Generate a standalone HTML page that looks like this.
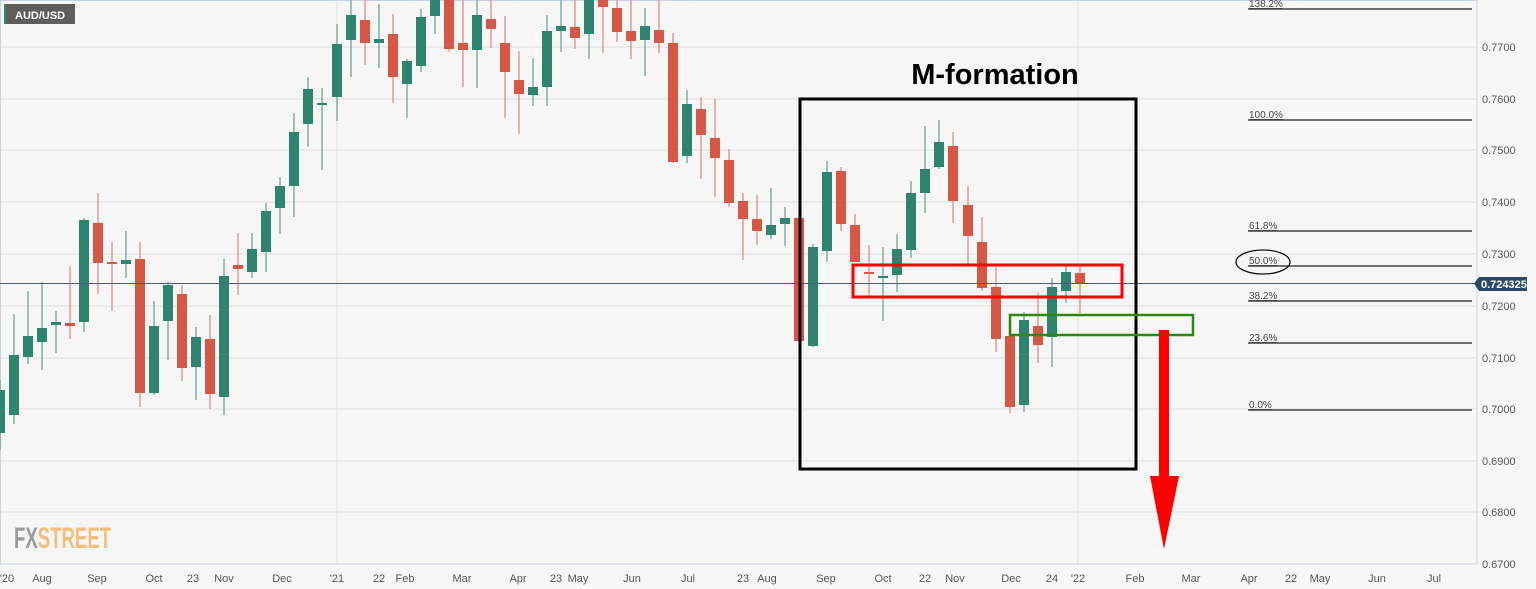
<!DOCTYPE html>
<html><head><meta charset="utf-8"><style>
html,body{margin:0;padding:0;background:#f7f7f7;}
svg{display:block;font-family:"Liberation Sans",sans-serif;}
</style></head><body>
<svg width="1536" height="589" viewBox="0 0 1536 589" xmlns="http://www.w3.org/2000/svg">
<rect x="0" y="0" width="1536" height="589" fill="#f7f7f7"/>
<rect x="0" y="0" width="1477" height="564" fill="#f6f6f6"/>
<g stroke="#e4e4e4" stroke-width="1.2">
<line x1="0" y1="47" x2="1477" y2="47"/><line x1="0" y1="99" x2="1477" y2="99"/>
<line x1="0" y1="150" x2="1477" y2="150"/><line x1="0" y1="202" x2="1477" y2="202"/>
<line x1="0" y1="254" x2="1477" y2="254"/><line x1="0" y1="306" x2="1477" y2="306"/>
<line x1="0" y1="358" x2="1477" y2="358"/><line x1="0" y1="409" x2="1477" y2="409"/>
<line x1="0" y1="461" x2="1477" y2="461"/><line x1="0" y1="512" x2="1477" y2="512"/>
<line x1="337" y1="0" x2="337" y2="564"/><line x1="1078" y1="0" x2="1078" y2="564"/>
</g>
<line x1="1477" y1="0" x2="1477" y2="564" stroke="#c8d3e6"/>
<line x1="0" y1="564" x2="1477" y2="564" stroke="#c8d3e6"/>
<line x1="0.5" y1="0" x2="0.5" y2="564" stroke="#c8d3e6"/>
<line x1="0" y1="0.5" x2="1477" y2="0.5" stroke="#c8d3e6"/>

<path stroke="#5fa190" stroke-width="1.2" fill="none" d="M0 380V450M14 314V424M28 291V364M42 282V370M56 311V353M84 218V332M126 231V278M154 301V395M168 282V360M196 327V400M224 259V415M252 233V278M266 203V272M280 177V234M294 113V217M308 77V147M322 88V170M337 24V121M351 0V77M379 4V68M407 59V118M421 9V72M435 0V34M477 0V88M533 58V106M547 15V106M561 0V52M589 0V59M645 8V76M687 90V163M771 188V239M785 207V246M813 244V347M827 161V262M883 247V321M897 234V292M911 181V258M925 126V213M939 120V169M1024 312V412M1052 278V367M1066 266V303"/>
<path stroke="#e2867a" stroke-width="1.2" fill="none" d="M70 266V339M98 193V294M112 242V311M140 242V407M182 285V381M210 315V409M238 233V295M365 0V65M393 14V103M449 0V52M463 0V87M491 0V48M505 16V118M519 51V134M575 0V49M603 0V53M617 0V42M631 0V59M659 0V53M673 33V163M701 97V179M715 99V197M729 149V207M743 193V260M757 195V245M799 218V341M841 167V231M855 214V262M869 245V296M953 132V223M968 186V267M982 217V291M996 267V352M1010 336V413M1038 293V363M1080 266V313"/>
<g fill="#2f8470">
<rect x="-5" y="390" width="10" height="43"/>
<rect x="9" y="355" width="10" height="60"/><rect x="23" y="336" width="10" height="21"/><rect x="37" y="328" width="10" height="14"/>
<rect x="51" y="322" width="10" height="3"/><rect x="79" y="220" width="10" height="102"/><rect x="121" y="260" width="10" height="4"/>
<rect x="149" y="326" width="10" height="67"/><rect x="163" y="285" width="10" height="36"/><rect x="191" y="337" width="10" height="30"/>
<rect x="219" y="276" width="10" height="121"/><rect x="247" y="249" width="10" height="23"/><rect x="261" y="211" width="10" height="41"/>
<rect x="275" y="186" width="10" height="22"/><rect x="289" y="132" width="10" height="54"/><rect x="303" y="89" width="10" height="35"/>
<rect x="317" y="103" width="10" height="2"/><rect x="332" y="44" width="10" height="53"/><rect x="346" y="15" width="10" height="25"/>
<rect x="374" y="39" width="10" height="4"/><rect x="402" y="61" width="10" height="23"/><rect x="416" y="17" width="10" height="49"/>
<rect x="430" y="0" width="10" height="16"/><rect x="472" y="15" width="10" height="35"/><rect x="528" y="87" width="10" height="8"/>
<rect x="542" y="31" width="10" height="56"/><rect x="556" y="26" width="10" height="5"/><rect x="584" y="0" width="10" height="34"/>
<rect x="640" y="26" width="10" height="14"/><rect x="682" y="104" width="10" height="52"/><rect x="766" y="225" width="10" height="10"/>
<rect x="780" y="218" width="10" height="6"/><rect x="808" y="247" width="10" height="99"/><rect x="822" y="172" width="10" height="79"/>
<rect x="878" y="276" width="10" height="2"/><rect x="892" y="249" width="10" height="26"/><rect x="906" y="193" width="10" height="57"/>
<rect x="920" y="169" width="10" height="24"/><rect x="934" y="142" width="10" height="25"/><rect x="1019" y="320" width="10" height="85"/>
<rect x="1047" y="287" width="10" height="50"/><rect x="1061" y="272" width="10" height="19"/>
</g>
<g fill="#d55745">
<rect x="65" y="323" width="10" height="3"/><rect x="93" y="223" width="10" height="40"/>
<rect x="107" y="262" width="10" height="2"/><rect x="135" y="259" width="10" height="134"/><rect x="177" y="294" width="10" height="74"/>
<rect x="205" y="339" width="10" height="55"/><rect x="233" y="265" width="10" height="4"/><rect x="360" y="20" width="10" height="23"/>
<rect x="388" y="34" width="10" height="43"/><rect x="444" y="0" width="10" height="49"/><rect x="458" y="43" width="10" height="7"/>
<rect x="486" y="19" width="10" height="10"/><rect x="500" y="43" width="10" height="29"/><rect x="514" y="80" width="10" height="14"/>
<rect x="570" y="27" width="10" height="11"/><rect x="598" y="0" width="10" height="7"/><rect x="612" y="8" width="10" height="24"/>
<rect x="626" y="31" width="10" height="10"/><rect x="654" y="30" width="10" height="13"/><rect x="668" y="43" width="10" height="119"/>
<rect x="696" y="109" width="10" height="26"/><rect x="710" y="138" width="10" height="20"/><rect x="724" y="160" width="10" height="43"/>
<rect x="738" y="201" width="10" height="18"/><rect x="752" y="219" width="10" height="12"/><rect x="794" y="218" width="10" height="123"/>
<rect x="836" y="171" width="10" height="53"/><rect x="850" y="225" width="10" height="37"/><rect x="864" y="272" width="10" height="2"/>
<rect x="948" y="146" width="10" height="55"/><rect x="963" y="205" width="10" height="31"/><rect x="977" y="242" width="10" height="46"/>
<rect x="991" y="287" width="10" height="52"/><rect x="1005" y="336" width="10" height="71"/><rect x="1033" y="326" width="10" height="19"/>
<rect x="1075" y="273" width="10" height="10"/>
</g>

<line x1="0" y1="283.5" x2="1477" y2="283.5" stroke="#4a5a78" stroke-width="1"/>
<g stroke="#222" stroke-width="1.3">
<line x1="1248" y1="9" x2="1472" y2="9"/><line x1="1248" y1="120" x2="1472" y2="120"/>
<line x1="1248" y1="231" x2="1472" y2="231"/><line x1="1248" y1="266" x2="1472" y2="266"/>
<line x1="1248" y1="301" x2="1472" y2="301"/><line x1="1248" y1="343" x2="1472" y2="343"/>
<line x1="1248" y1="410" x2="1472" y2="410"/>
</g>
<g font-size="10" fill="#444" text-decoration="underline">
<text x="1249" y="7">138.2%</text><text x="1249" y="118">100.0%</text>
<text x="1249" y="229">61.8%</text><text x="1249" y="264">50.0%</text>
<text x="1249" y="299">38.2%</text><text x="1249" y="341">23.6%</text>
<text x="1249" y="408">0.0%</text>
</g>
<ellipse cx="1263" cy="262" rx="27" ry="12" fill="none" stroke="#111" stroke-width="1.3"/>
<g font-size="11" fill="#555">
<text x="1482" y="51">0.7700</text><text x="1482" y="103">0.7600</text><text x="1482" y="154">0.7500</text>
<text x="1482" y="206">0.7400</text><text x="1482" y="258">0.7300</text><text x="1482" y="310">0.7200</text>
<text x="1482" y="362">0.7100</text><text x="1482" y="413">0.7000</text><text x="1482" y="465">0.6900</text>
<text x="1482" y="516">0.6800</text><text x="1482" y="568">0.6700</text>
</g>
<polygon points="1474,283.5 1479,277 1527,277 1527,291 1479,291" fill="#2b4a6b"/>
<text x="1481" y="288" font-size="11" font-weight="bold" fill="#fff">0.724325</text>
<g font-size="11" fill="#555" text-anchor="middle">
<text x="7" y="582">'20</text><text x="42" y="582">Aug</text><text x="97" y="582">Sep</text>
<text x="154" y="582">Oct</text><text x="193" y="582">23</text><text x="224" y="582">Nov</text>
<text x="282" y="582">Dec</text><text x="337" y="582">'21</text><text x="379" y="582">22</text>
<text x="405" y="582">Feb</text><text x="462" y="582">Mar</text><text x="518" y="582">Apr</text>
<text x="556" y="582">23</text><text x="578" y="582">May</text><text x="632" y="582">Jun</text>
<text x="688" y="582">Jul</text><text x="743" y="582">23</text><text x="767" y="582">Aug</text>
<text x="826" y="582">Sep</text><text x="883" y="582">Oct</text><text x="925" y="582">22</text>
<text x="955" y="582">Nov</text><text x="1011" y="582">Dec</text><text x="1052" y="582">24</text>
<text x="1078" y="582">'22</text><text x="1135" y="582">Feb</text><text x="1191" y="582">Mar</text>
<text x="1249" y="582">Apr</text><text x="1291" y="582">22</text><text x="1320" y="582">May</text>
<text x="1377" y="582">Jun</text><text x="1434" y="582">Jul</text>
</g>
<rect x="4" y="4" width="71" height="20" fill="#5d5d5d"/>
<rect x="4" y="4" width="2" height="20" fill="#2f8a70"/>
<text x="15" y="19" font-size="11" fill="#fff" font-weight="bold">AUD/USD</text>
<g transform="translate(14,548) scale(0.62,1)" font-size="30" font-weight="bold">
<text x="0" y="0" fill="#9a9a9a">FX<tspan fill="#f2c07c">STREET</tspan></text>
</g>
<rect x="800" y="99" width="336" height="370" fill="none" stroke="#000" stroke-width="3"/>
<text x="995" y="84" font-size="29" font-weight="bold" text-anchor="middle" fill="#000">M-formation</text>
<rect x="853" y="265" width="269" height="32" fill="none" stroke="#f00" stroke-width="3"/>
<rect x="1010" y="315" width="183" height="20" fill="none" stroke="#2a8a10" stroke-width="2.5"/>
<rect x="1159" y="330" width="10" height="148" fill="#f00"/>
<polygon points="1150,476 1179,476 1164,549" fill="#f00"/>
</svg>
</body></html>
